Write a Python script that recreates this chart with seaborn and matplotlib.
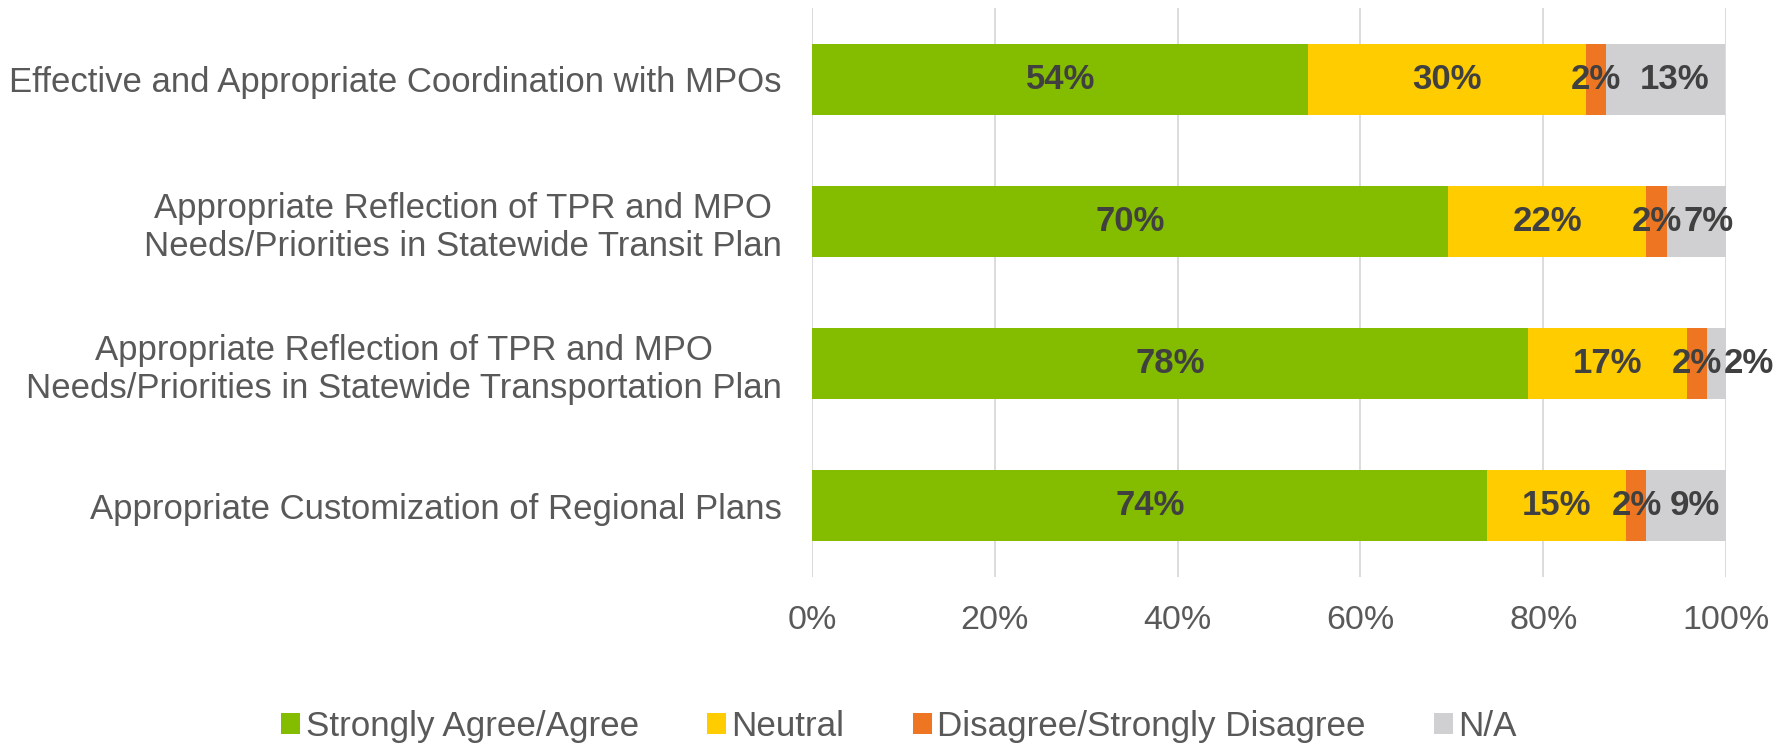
import matplotlib
matplotlib.use("Agg")
import numpy as np
import pandas as pd
import matplotlib.pyplot as plt
import seaborn as sns
from matplotlib.patches import Patch

# dados (percentuais por item)
categories = [
    "Effective and Appropriate Coordination with MPOs",
    "Appropriate Reflection of TPR and MPO\nNeeds/Priorities in Statewide Transit Plan",
    "Appropriate Reflection of TPR and MPO\nNeeds/Priorities in Statewide Transportation Plan",
    "Appropriate Customization of Regional Plans",
]
agree = [54.3, 69.6, 78.3, 73.9]
neutral = [30.4, 21.7, 17.4, 15.2]
disagree = [2.2, 2.2, 2.2, 2.2]
na = [13.0, 6.5, 2.2, 8.7]

series_names = ["Strongly Agree/Agree", "Neutral", "Disagree/Strongly Disagree", "N/A"]
colors = ["#84BC00", "#FFCC00", "#EE7623", "#D0D0D2"]

sns.set_style("white")
plt.rcParams["font.family"] = ["Liberation Sans", "DejaVu Sans"]

df = pd.DataFrame({"cat": categories, "agree": agree, "neutral": neutral,
                   "disagree": disagree, "na": na})
cols = ["agree", "neutral", "disagree", "na"]
cum = df[cols].cumsum(axis=1)

fig = plt.figure(figsize=(17.91, 7.44), dpi=100)
ax = fig.add_axes([0.4534, 0.2245, 0.5103, 0.7645])

# empilhamento: desenha do total acumulado para o primeiro segmento
for col, color in reversed(list(zip(cols, colors))):
    sns.barplot(x=cum[col], y=df["cat"], color=color, width=0.5,
                orient="h", ax=ax, saturation=1, linewidth=0)

ax.set_xlim(0, 100)
ax.set_ylim(3.5, -0.5)
ax.set_xticks(np.arange(0, 101, 20))
ax.set_xticklabels([f"{t}%" for t in range(0, 101, 20)])
ax.xaxis.grid(True, color="#D9D9D9", linewidth=1.3)
ax.set_axisbelow(True)
ax.set_xlabel("")
ax.set_ylabel("")
for s in ax.spines.values():
    s.set_visible(False)
ax.tick_params(axis="x", length=0, pad=20, labelsize=24.5, labelcolor="#595959")
ax.tick_params(axis="y", length=0, pad=22, labelsize=25, labelcolor="#595959")
for lbl in ax.get_yticklabels():
    lbl.set_horizontalalignment("right")
    lbl.set_multialignment("center")

# rótulos de dados
for i in range(len(df)):
    starts = [0] + list(cum.iloc[i, :-1])
    prev_x = None
    for j, col in enumerate(cols):
        v = df[col].iloc[i]
        x = starts[j] + v / 2
        if j == 3 and prev_x is not None:
            x = max(x + 1, prev_x + 5.7)
        ax.text(x, i, f"{int(v + 0.5):d}%", ha="center", va="center",
                fontsize=25, fontweight="bold", color="#404040")
        prev_x = x

handles = [Patch(facecolor=c, edgecolor="none") for c in colors]
fig.legend(handles, series_names, loc="center", bbox_to_anchor=(0.502, 0.024),
           ncol=4, frameon=False, fontsize=25.2, labelcolor="#595959",
           handlelength=0.55, handleheight=0.55, handletextpad=0.15,
           columnspacing=1.95)

fig.savefig("out.png", dpi=100)
